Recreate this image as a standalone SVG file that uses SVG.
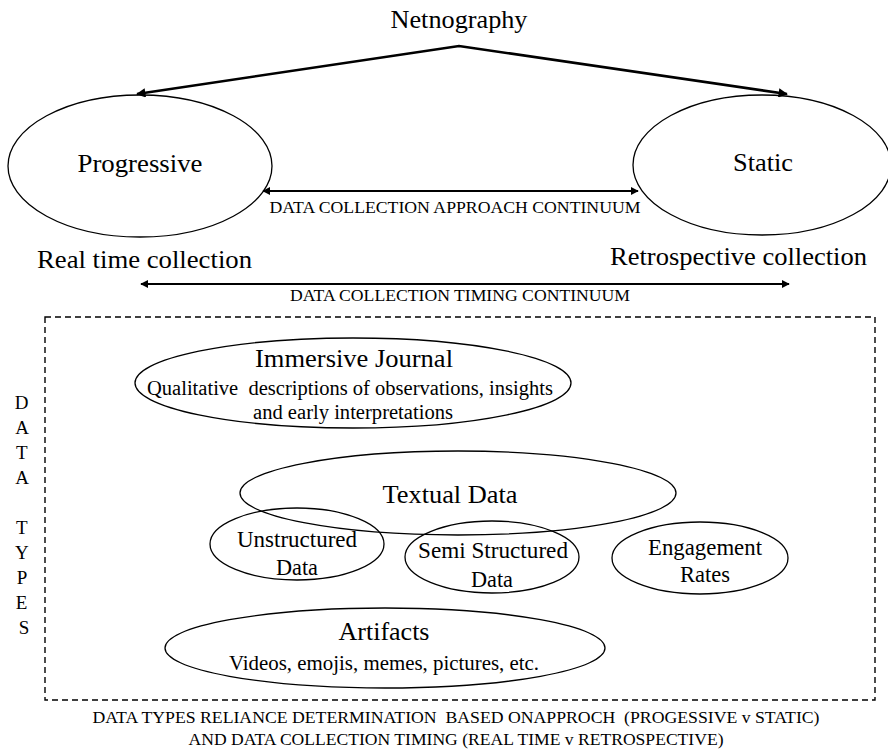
<svg xmlns="http://www.w3.org/2000/svg" width="888" height="751" viewBox="0 0 888 751">
  <style>
    text { font-family: "Liberation Serif", Tinos, "DejaVu Serif", "Times New Roman", serif; fill: #000; }
    .ell { fill: none; stroke: #000; stroke-width: 1.3; }
    .big { font-size: 26px; }
    .mid { font-size: 23px; }
    .sub { font-size: 20px; }
    .cap { font-size: 17px; }
    .vert { font-size: 19px; }
    .arrow { stroke: #000; stroke-width: 2.6; fill: none; }
    .dbl { stroke: #000; stroke-width: 2.2; fill: none; }
  </style>
  <defs>
    <marker id="head" viewBox="0 0 10 10" refX="9" refY="5" markerWidth="3.6" markerHeight="3.6" orient="auto-start-reverse" markerUnits="strokeWidth">
      <path d="M0,0 L10,5 L0,10 z" fill="#000"/>
    </marker>
  </defs>

  <rect width="888" height="751" fill="#fff"/>

  <!-- top node -->
  <g id="netnography">
    <text class="big" x="459" y="28" text-anchor="middle" textLength="137" lengthAdjust="spacingAndGlyphs">Netnography</text>
  </g>

  <g id="progressive">
    <ellipse class="ell" cx="140" cy="166" rx="132" ry="71"/>
    <text class="big" x="140" y="172" text-anchor="middle" textLength="125" lengthAdjust="spacingAndGlyphs">Progressive</text>
  </g>

  <g id="static">
    <ellipse class="ell" cx="762" cy="165" rx="129" ry="70"/>
    <text class="big" x="763" y="171" text-anchor="middle" textLength="60" lengthAdjust="spacingAndGlyphs">Static</text>
  </g>

  <!-- timing labels -->
  <g id="real-time">
    <text class="big" x="37" y="268" textLength="215" lengthAdjust="spacingAndGlyphs">Real time collection</text>
  </g>
  <g id="retrospective">
    <text class="big" x="610" y="265" textLength="257" lengthAdjust="spacingAndGlyphs">Retrospective collection</text>
  </g>

  <!-- data types panel -->
  <g id="data-types">
    <rect x="45" y="317" width="830" height="383" fill="none" stroke="#000" stroke-width="1.4" stroke-dasharray="6,4"/>
    <text class="vert" text-anchor="middle">
      <tspan x="24" y="409">D</tspan>
      <tspan x="24" y="434">A</tspan>
      <tspan x="24" y="459">T</tspan>
      <tspan x="24" y="484">A</tspan>
      <tspan x="24" y="534">T</tspan>
      <tspan x="24" y="559">Y</tspan>
      <tspan x="24" y="584">P</tspan>
      <tspan x="24" y="609">E</tspan>
      <tspan x="24" y="634">S</tspan>
    </text>
  </g>

  <g id="immersive-journal">
    <ellipse class="ell" cx="353" cy="383" rx="218" ry="45"/>
    <text class="big" x="354" y="367" text-anchor="middle" textLength="198" lengthAdjust="spacingAndGlyphs">Immersive Journal</text>
    <text class="sub" x="350" y="395" text-anchor="middle" textLength="406" lengthAdjust="spacingAndGlyphs" xml:space="preserve">Qualitative  descriptions of observations, insights</text>
    <text class="sub" x="353" y="419" text-anchor="middle" textLength="200" lengthAdjust="spacingAndGlyphs">and early interpretations</text>
  </g>

  <g id="textual-data">
    <ellipse class="ell" cx="458" cy="493" rx="218" ry="42"/>
    <text class="big" x="450" y="503" text-anchor="middle" textLength="135" lengthAdjust="spacingAndGlyphs">Textual Data</text>
  </g>

  <g id="unstructured-data">
    <ellipse class="ell" cx="297" cy="544" rx="87" ry="36"/>
    <text class="mid" x="297" y="547" text-anchor="middle" textLength="120" lengthAdjust="spacingAndGlyphs">Unstructured</text>
    <text class="mid" x="297" y="575" text-anchor="middle" textLength="42" lengthAdjust="spacingAndGlyphs">Data</text>
  </g>

  <g id="semi-structured-data">
    <ellipse class="ell" cx="492" cy="557" rx="87" ry="36"/>
    <text class="mid" x="493" y="558" text-anchor="middle" textLength="150" lengthAdjust="spacingAndGlyphs">Semi Structured</text>
    <text class="mid" x="492" y="587" text-anchor="middle" textLength="42" lengthAdjust="spacingAndGlyphs">Data</text>
  </g>

  <g id="engagement-rates">
    <ellipse class="ell" cx="700" cy="558" rx="88" ry="36"/>
    <text class="mid" x="705" y="555" text-anchor="middle" textLength="114" lengthAdjust="spacingAndGlyphs">Engagement</text>
    <text class="mid" x="705" y="582" text-anchor="middle" textLength="50" lengthAdjust="spacingAndGlyphs">Rates</text>
  </g>

  <g id="artifacts">
    <ellipse class="ell" cx="385" cy="648" rx="220" ry="40"/>
    <text class="big" x="384" y="640" text-anchor="middle" textLength="91" lengthAdjust="spacingAndGlyphs">Artifacts</text>
    <text class="sub" x="384" y="670" text-anchor="middle" textLength="310" lengthAdjust="spacingAndGlyphs">Videos, emojis, memes, pictures, etc.</text>
  </g>

  <g id="caption">
    <text class="cap" x="456" y="723" text-anchor="middle" textLength="727" lengthAdjust="spacingAndGlyphs" xml:space="preserve">DATA TYPES RELIANCE DETERMINATION  BASED ONAPPROCH  (PROGESSIVE v STATIC)</text>
    <text class="cap" x="456" y="745" text-anchor="middle" textLength="535" lengthAdjust="spacingAndGlyphs">AND DATA COLLECTION TIMING (REAL TIME v RETROSPECTIVE)</text>
  </g>

  <!-- connectors -->
  <g id="connectors">
    <polyline class="arrow" points="137,94 459,46 787,94" marker-start="url(#head)" marker-end="url(#head)"/>
    <line class="dbl" x1="263" y1="191" x2="638" y2="191" marker-start="url(#head)" marker-end="url(#head)"/>
    <text class="cap" x="455" y="213" text-anchor="middle" textLength="371" lengthAdjust="spacingAndGlyphs">DATA COLLECTION APPROACH CONTINUUM</text>
    <line class="dbl" x1="141" y1="284" x2="789" y2="284" marker-start="url(#head)" marker-end="url(#head)"/>
    <text class="cap" x="460" y="301" text-anchor="middle" textLength="340" lengthAdjust="spacingAndGlyphs">DATA COLLECTION TIMING CONTINUUM</text>
  </g>
</svg>
